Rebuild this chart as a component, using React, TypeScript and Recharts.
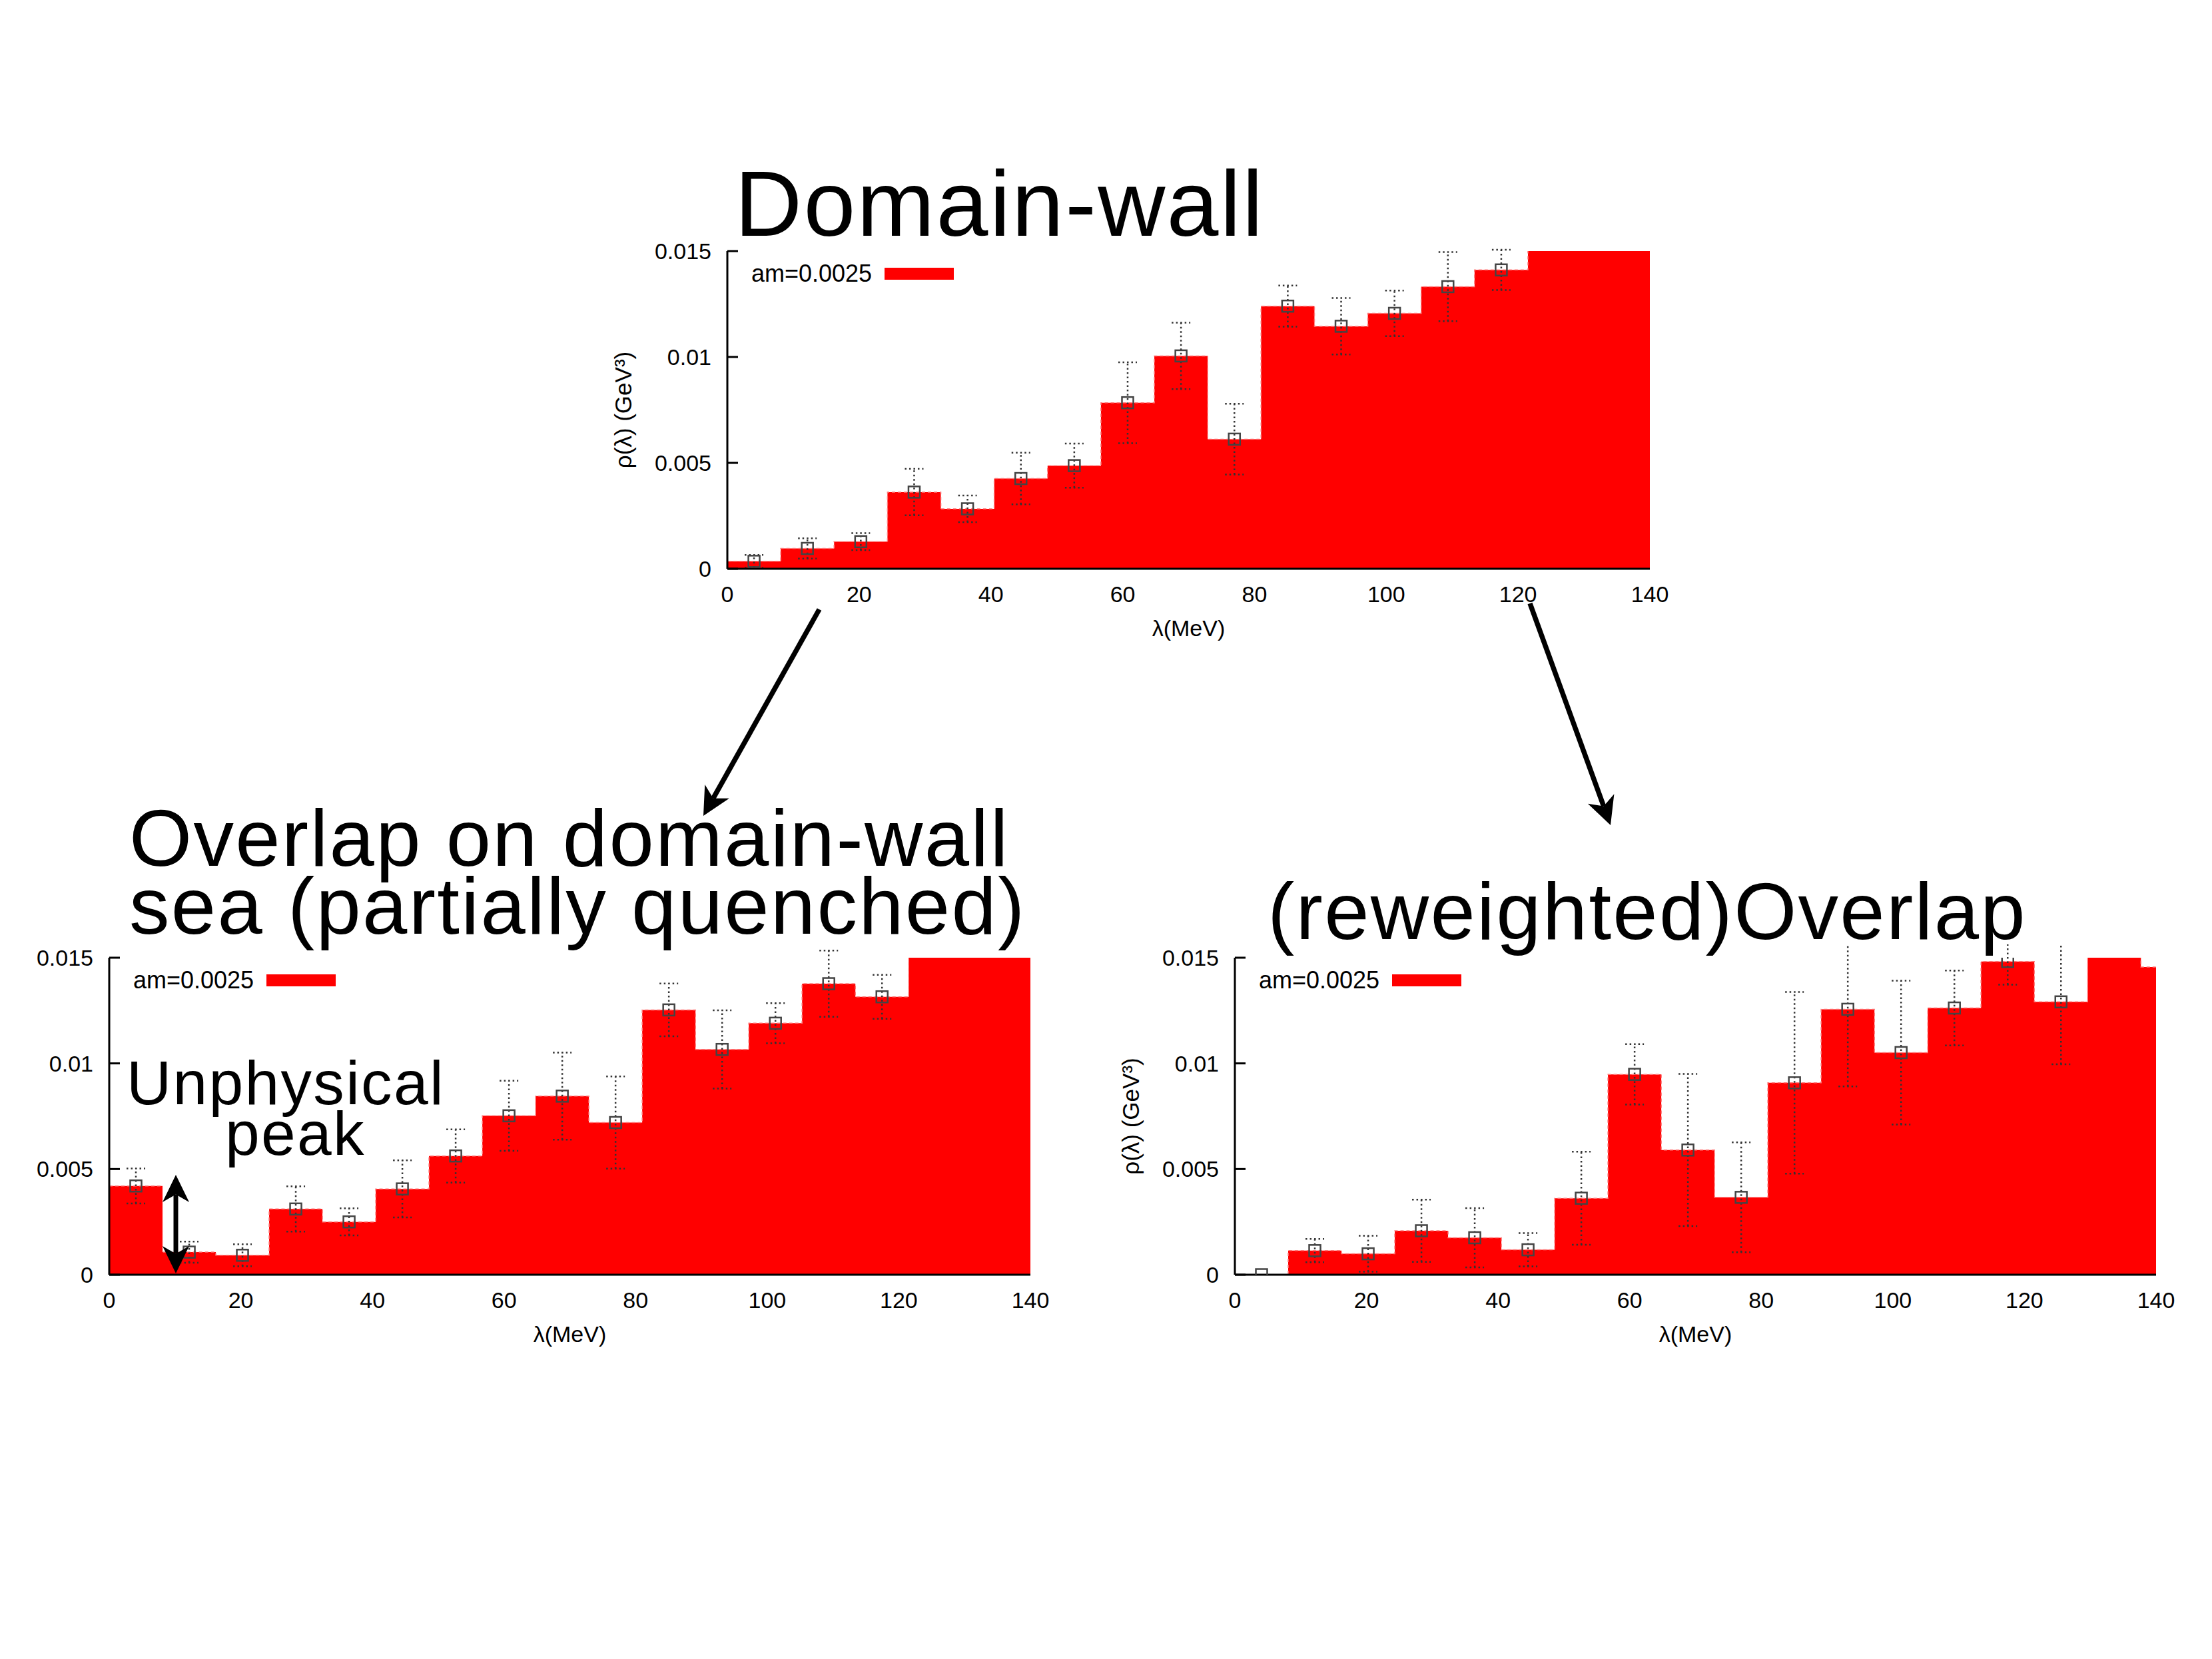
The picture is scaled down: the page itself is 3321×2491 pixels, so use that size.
import React from 'react';
import { ComposedChart, Area, Scatter, ErrorBar, XAxis, YAxis, Legend } from 'recharts';

// ---------- data ----------
const binEdges = [0, 8.1, 16.2, 24.3, 32.4, 40.5, 48.6, 56.7, 64.8, 72.9, 81, 89.1, 97.2, 105.3, 113.4, 121.5, 129.6, 137.7, 145.8];
const binCenters = [4.05, 12.15, 20.25, 28.35, 36.45, 44.55, 52.65, 60.75, 68.85, 76.95, 85.05, 93.15, 101.25, 109.35, 117.45, 125.55, 133.65, 141.75];
const xTicks = [0, 20, 40, 60, 80, 100, 120, 140];
const yTicks = [0, 0.005, 0.01, 0.015];

// Domain-wall
const dwRho = [0.00035, 0.00096, 0.00128, 0.00362, 0.00283, 0.00426, 0.00487, 0.00784, 0.01005, 0.00612, 0.0124, 0.01145, 0.01206, 0.01332, 0.01411, 0.0165, 0.0175, 0.018];
const dwErr = [0.0003, 0.00048, 0.0004, 0.0011, 0.00063, 0.00122, 0.00104, 0.00191, 0.00157, 0.00167, 0.00097, 0.00133, 0.00108, 0.00163, 0.00095];

// Overlap on domain-wall sea (partially quenched)
const pqRho = [0.0042, 0.00107, 0.00092, 0.00311, 0.0025, 0.00406, 0.00562, 0.00752, 0.00845, 0.0072, 0.01253, 0.01066, 0.0119, 0.01377, 0.01315, 0.017, 0.0175, 0.018];
const pqErr = [0.00083, 0.0005, 0.00052, 0.00107, 0.00064, 0.00135, 0.00126, 0.00166, 0.00206, 0.00218, 0.00125, 0.00185, 0.00095, 0.00157, 0.00104];

// (reweighted) Overlap
const rwRho = [0, 0.00114, 0.00099, 0.00208, 0.00175, 0.00118, 0.00362, 0.00948, 0.0059, 0.00366, 0.00908, 0.01256, 0.01051, 0.01262, 0.01482, 0.01291, 0.017, 0.01456];
const rwErr = [0, 0.00055, 0.00085, 0.00147, 0.0014, 0.00079, 0.0022, 0.00143, 0.0036, 0.0026, 0.0043, 0.00365, 0.0034, 0.00177, 0.0011, 0.00295];

const seriesName = 'am=0.0025';
const xTitle = 'λ(MeV)';
const yTitle = 'ρ(λ) (GeV³)';

const FONT = '"Liberation Sans", Arial, Helvetica, sans-serif';
const RED = '#ff0000';

const Square = (p: any) => {
  if (p.cx == null || p.cy == null) return null;
  return <rect x={p.cx - 8.5} y={p.cy - 8.5} width={17} height={17} fill="none" stroke="#444" strokeWidth={2.5} />;
};

const makeLegend = (props: any) => {
  const items = (props && props.payload ? props.payload : []).filter((p: any) => p.type !== 'none');
  const label = items.length ? items[0].value : seriesName;
  return (
    <svg width={340} height={64} style={{ display: 'block', overflow: 'visible' }}>
      <text x={2} y={46} fontSize={36} fontFamily={FONT} fill="#000">{label}</text>
      <rect x={202} y={25} width={104} height={18} fill={RED} />
    </svg>
  );
};

type HistProps = {
  left: number; top: number; plotW: number; plotH: number; yw: number;
  rho: number[]; err: number[]; showYTitle: boolean;
};

function Hist({ left, top, plotW, plotH, yw, rho, err, showYTitle }: HistProps) {
  const areaData = binEdges.map((x, i) => ({ x, y: rho[Math.min(i, rho.length - 1)] }));
  const pts = err.map((e, i) => ({ x: binCenters[i], y: rho[i], err: e }));
  const mt = 20, mr = 45, xh = 130;
  const axisStroke = { stroke: '#000', strokeWidth: 3 };
  const tickFont = { fontSize: 34, fill: '#000', fontFamily: FONT };
  return (
    <div style={{ position: 'absolute', left: left - yw, top: top - mt }}>
      <ComposedChart width={yw + plotW + mr} height={mt + plotH + xh} margin={{ top: mt, right: mr, bottom: 0, left: 0 }}>
        <Area
          xAxisId="b" yAxisId="l" data={areaData} dataKey="y" name={seriesName} type="stepAfter"
          fill={RED} fillOpacity={1} stroke="#ff7a7a" strokeWidth={1.5} strokeDasharray="5 4"
          baseValue={0} dot={false} activeDot={false} isAnimationActive={false}
        />
        <Scatter xAxisId="b" yAxisId="l" data={pts} dataKey="y" shape={Square} legendType="none" isAnimationActive={false}>
          <ErrorBar dataKey="err" direction="y" width={14} stroke="#333" strokeWidth={2.5} strokeDasharray="2.5 4" isAnimationActive={false} />
        </Scatter>
        <XAxis
          xAxisId="b" dataKey="x" type="number" domain={[0, 140]} ticks={xTicks} allowDataOverflow
          height={xh} tickLine={false} tickSize={0} tickMargin={26} axisLine={axisStroke} tick={tickFont}
          label={{ value: xTitle, position: 'insideBottom', offset: 29, fontSize: 34, fill: '#000', fontFamily: FONT }}
        />
        <XAxis
          xAxisId="t" orientation="top" dataKey="x" type="number" domain={[0, 140]} ticks={xTicks} allowDataOverflow
          height={0} mirror tick={false} tickSize={16} tickLine={axisStroke} axisLine={axisStroke}
        />
        <YAxis
          yAxisId="l" type="number" domain={[0, 0.015]} ticks={yTicks} allowDataOverflow width={yw}
          tickSize={-16} tickMargin={40} tickLine={axisStroke} axisLine={axisStroke} tick={tickFont}
          label={showYTitle ? { value: yTitle, position: 'center', angle: -90, fontSize: 35, fill: '#000', fontFamily: FONT } : undefined}
        />
        <YAxis
          yAxisId="r" orientation="right" type="number" domain={[0, 0.015]} ticks={yTicks} allowDataOverflow
          width={0} mirror tick={false} tickLine={false} axisLine={axisStroke}
        />
        <Legend
          layout="horizontal" align="center" verticalAlign="middle" content={makeLegend}
          wrapperStyle={{ position: 'absolute', left: yw + 34, top: mt, width: 'auto', height: 'auto' }}
        />
      </ComposedChart>
    </div>
  );
}

function arrowParts(x1: number, y1: number, x2: number, y2: number, headLen: number, headW: number) {
  const dx = x2 - x1, dy = y2 - y1;
  const L = Math.hypot(dx, dy);
  const ux = dx / L, uy = dy / L;
  const nx = -uy, ny = ux;
  const bx = x2 - ux * headLen, by = y2 - uy * headLen;
  const notchX = x2 - ux * headLen * 0.72, notchY = y2 - uy * headLen * 0.72;
  const pts = [
    [x2, y2],
    [bx + nx * headW / 2, by + ny * headW / 2],
    [notchX, notchY],
    [bx - nx * headW / 2, by - ny * headW / 2],
  ].map((p) => p.join(',')).join(' ');
  return { pts, notchX, notchY };
}

function Arrow({ x1, y1, x2, y2 }: { x1: number; y1: number; x2: number; y2: number }) {
  const a = arrowParts(x1, y1, x2, y2, 42, 42);
  return (
    <g>
      <line x1={x1} y1={y1} x2={a.notchX} y2={a.notchY} stroke="#000" strokeWidth={7.5} />
      <polygon points={a.pts} fill="#000" />
    </g>
  );
}

function DoubleArrow({ x, y1, y2 }: { x: number; y1: number; y2: number }) {
  const a = arrowParts(x, y2, x, y1, 41, 40);
  const b = arrowParts(x, y1, x, y2, 41, 40);
  return (
    <g>
      <line x1={x} y1={a.notchY} x2={x} y2={b.notchY} stroke="#000" strokeWidth={7} />
      <polygon points={a.pts} fill="#000" />
      <polygon points={b.pts} fill="#000" />
    </g>
  );
}

export default function App() {
  return (
    <div style={{ position: 'absolute', left: 0, top: 0, width: 3321, height: 2491, background: '#fff', overflow: 'hidden', fontFamily: FONT }}>
      <Hist left={1092} top={377} plotW={1385} plotH={477} yw={312} rho={dwRho} err={dwErr} showYTitle={true} />
      <Hist left={164} top={1438} plotW={1383} plotH={476} yw={160} rho={pqRho} err={pqErr} showYTitle={false} />
      <Hist left={1854} top={1438} plotW={1383} plotH={476} yw={312} rho={rwRho} err={rwErr} showYTitle={true} />
      <svg width={3321} height={2491} style={{ position: 'absolute', left: 0, top: 0, pointerEvents: 'none' }}>
        <g fontFamily={FONT} fill="#000" letterSpacing={2.3}>
          <text x={1103} y={354} fontSize={140}>Domain-wall</text>
          <text x={194} y={1300} fontSize={121}>Overlap on domain-wall</text>
          <text x={194} y={1402} fontSize={121}>sea (partially quenched)</text>
          <text x={1903} y={1410} fontSize={121}>(reweighted)Overlap</text>
          <text x={190} y={1658} fontSize={93}>Unphysical</text>
          <text x={338} y={1734} fontSize={93}>peak</text>
        </g>
        <Arrow x1={1230} y1={915} x2={1056} y2={1225} />
        <Arrow x1={2297} y1={906} x2={2418} y2={1239} />
        <DoubleArrow x={264} y1={1764} y2={1912} />
      </svg>
    </div>
  );
}
